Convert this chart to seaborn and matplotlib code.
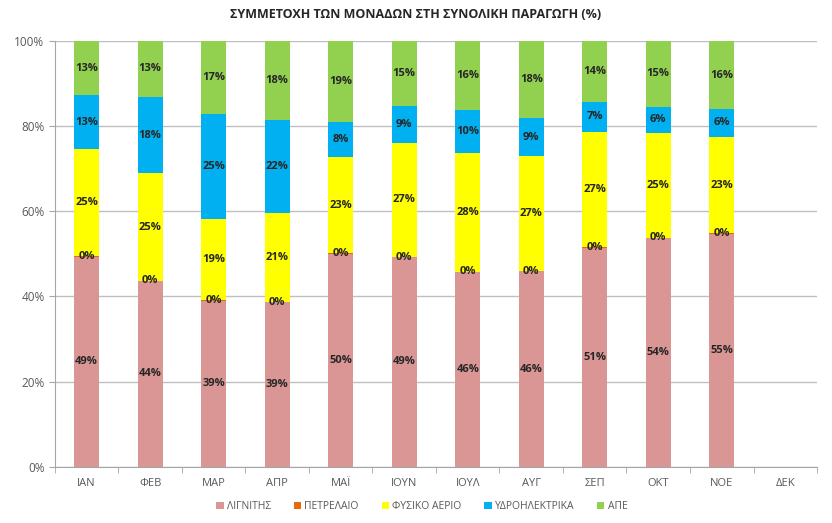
import numpy as np
import pandas as pd
import matplotlib
matplotlib.use("Agg")
import matplotlib.pyplot as plt
import seaborn as sns
from matplotlib.patches import Patch
from matplotlib.ticker import FixedLocator

months = ["ΙΑΝ", "ΦΕΒ", "ΜΑΡ", "ΑΠΡ", "ΜΑΪ", "ΙΟΥΝ", "ΙΟΥΛ", "ΑΥΓ", "ΣΕΠ", "ΟΚΤ", "ΝΟΕ", "ΔΕΚ"]
series = ["ΛΙΓΝΙΤΗΣ", "ΠΕΤΡΕΛΑΙΟ", "ΦΥΣΙΚΟ ΑΕΡΙΟ", "ΥΔΡΟΗΛΕΚΤΡΙΚΑ", "ΑΠΕ"]
colors = ["#D99694", "#E46C0A", "#FFFF00", "#00B0F0", "#92D050"]

lignite = [49.3, 43.6, 39.0, 38.6, 50.0, 49.2, 45.7, 45.9, 51.4, 53.7, 54.7, np.nan]
oil = [0.1, 0.1, 0.1, 0.1, 0.1, 0.1, 0.1, 0.1, 0.1, 0.1, 0.1, np.nan]
gas = [25.2, 25.2, 19.0, 20.9, 22.7, 26.8, 28.0, 27.1, 27.2, 24.6, 22.7, np.nan]
hydro = [12.6, 18.0, 24.8, 21.9, 8.2, 8.6, 10.0, 8.7, 6.9, 6.2, 6.5, np.nan]
res = [12.8, 13.1, 17.1, 18.4, 19.0, 15.3, 16.2, 18.2, 14.4, 15.3, 16.0, np.nan]

values = [lignite, oil, gas, hydro, res]

plt.rcParams['font.family'] = ['Open Sans', 'DejaVu Sans']

fig = plt.figure(figsize=(8.32, 5.23), dpi=100)
ax = fig.add_axes([0.066, 0.1076, 0.916, 0.814])

df = pd.DataFrame({"month": months})
cum = np.zeros(len(months))
bottoms = []
for name, v in zip(series, values):
    v = np.array(v, dtype=float)
    bottoms.append(cum.copy())
    cum = cum + v
    df[name] = cum

# draw from the top layer down so lower layers cover upper ones
for name, col in reversed(list(zip(series, colors))):
    sns.barplot(data=df, x="month", y=name, order=months, color=col,
                width=0.39, saturation=1, ax=ax, zorder=2, errorbar=None)

# data labels
for i, m in enumerate(months):
    for s, (name, v) in enumerate(zip(series, values)):
        val = v[i]
        if np.isnan(val):
            continue
        y = bottoms[s][i] + val / 2
        ax.text(i, y, f"{round(val):.0f}%", ha="center", va="center",
                fontsize=8, fontweight="bold", color="#262626", zorder=4)

ax.set_xlim(-0.5, len(months) - 0.5)
ax.set_ylim(0, 100)
ax.set_yticks([0, 20, 40, 60, 80, 100])
ax.set_yticklabels([f"{t}%" for t in [0, 20, 40, 60, 80, 100]])
ax.set_xlabel("")
ax.set_ylabel("")
ax.yaxis.grid(True, color="#BFBFBF", linewidth=1, zorder=0)
ax.set_axisbelow(True)
for sp in ["top", "right"]:
    ax.spines[sp].set_visible(False)
ax.spines["left"].set_color("#A6A6A6")
ax.spines["bottom"].set_color("#A6A6A6")
ax.tick_params(axis="y", colors="#595959", labelsize=8.5, length=4, color="#A6A6A6")
ax.tick_params(axis="x", colors="#595959", labelsize=8, length=0, pad=8)
ax.xaxis.set_minor_locator(FixedLocator(np.arange(-0.5, len(months), 1)))
ax.tick_params(axis="x", which="minor", length=4, color="#A6A6A6")

fig.text(0.5, 0.972, "ΣΥΜΜΕΤΟΧΗ ΤΩΝ ΜΟΝΑΔΩΝ ΣΤΗ ΣΥΝΟΛΙΚΗ ΠΑΡΑΓΩΓΗ (%)",
         ha="center", va="center", fontsize=9, fontweight="bold", color="#262626")

handles = [Patch(facecolor=c, edgecolor="none") for c in colors]
leg = fig.legend(handles, series, loc="center", bbox_to_anchor=(0.507, 0.031), ncol=5,
                 frameon=False, fontsize=7.5, handlelength=0.7, handleheight=0.7,
                 handletextpad=0.3, columnspacing=2.2)
for t in leg.get_texts():
    t.set_color("#595959")

fig.savefig("out.png", dpi=100)
